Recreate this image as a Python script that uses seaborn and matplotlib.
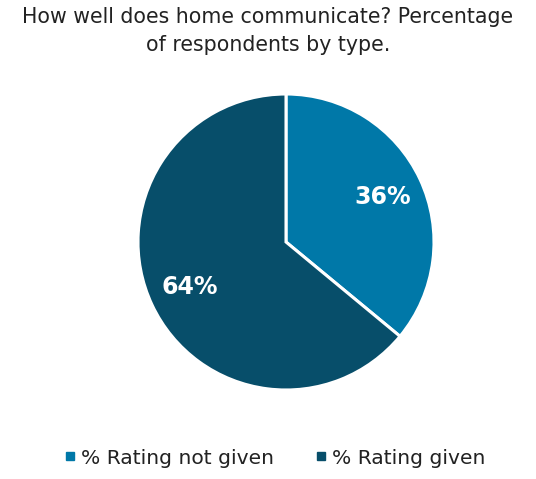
import matplotlib
matplotlib.use("Agg")
import matplotlib.pyplot as plt
import seaborn as sns
from matplotlib.lines import Line2D

categories = ["% Rating not given", "% Rating given"]
values = [36, 64]
colors = ["#0078A8", "#074E6A"]
title = "How well does home communicate? Percentage\nof respondents by type."

sns.set_theme(style="white")
plt.rcParams["font.family"] = ["DejaVu Sans"]

W, H = 536, 479
fig = plt.figure(figsize=(W / 100, H / 100), dpi=100)
fig.patch.set_facecolor("white")

cx, cy, r = 286, 242, 148
ax = fig.add_axes([(cx - r) / W, (H - cy - r) / H, 2 * r / W, 2 * r / H])

wedges, texts, autotexts = ax.pie(
    values,
    colors=colors,
    startangle=90,
    counterclock=False,
    autopct=lambda p: f"{p:.0f}%",
    pctdistance=0.72,
    wedgeprops=dict(edgecolor="white", linewidth=2.2),
    textprops=dict(color="white", fontsize=17, fontweight="bold"),
)
ax.set_xlim(-1, 1)
ax.set_ylim(-1, 1)
ax.set_aspect("equal")
ax.axis("off")

fig.text(0.5, 1 - 31 / H, title, ha="center", va="center", fontsize=14.8,
         color="#222222", linespacing=1.5)

handles = [Line2D([0], [0], marker="s", linestyle="", markersize=5.5,
                  markerfacecolor=c, markeredgecolor=c) for c in colors]
fig.legend(handles, categories, loc="center", bbox_to_anchor=(0.512, 1 - 458 / H),
           ncol=2, frameon=False, fontsize=14.6, handletextpad=0.2,
           columnspacing=1.95, handlelength=0.7, labelcolor="#222222")

fig.savefig("out.png", dpi=100)
